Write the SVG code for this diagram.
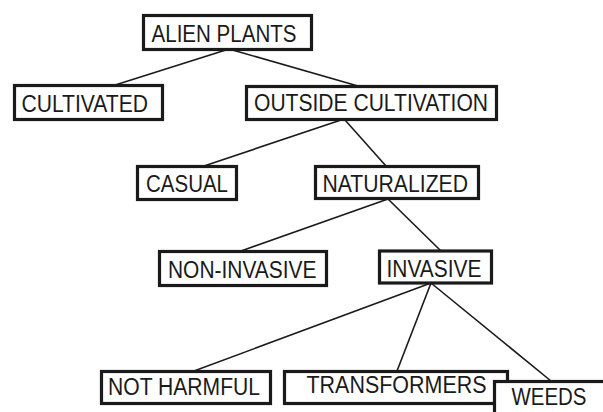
<svg xmlns="http://www.w3.org/2000/svg" width="603" height="412" viewBox="0 0 603 412">
<style>
.box{fill:#fff;stroke:#1a1a1a;stroke-width:3.2}
.lbl{font-family:"Liberation Sans",Arial,sans-serif;font-size:23px;fill:#1a1a1a}
.ln{stroke:#1a1a1a;stroke-width:1.6;fill:none}
</style>
<rect width="603" height="412" fill="#fff"/>
<g id="connectors">
<line class="ln" x1="229" y1="49" x2="112" y2="86"/>
<line class="ln" x1="229" y1="49" x2="358" y2="86"/>
<line class="ln" x1="341" y1="120" x2="204" y2="166"/>
<line class="ln" x1="345" y1="120" x2="386" y2="166"/>
<line class="ln" x1="388" y1="199" x2="241" y2="251"/>
<line class="ln" x1="388" y1="199" x2="441" y2="251"/>
<line class="ln" x1="431" y1="283" x2="194" y2="371"/>
<line class="ln" x1="431" y1="283" x2="397" y2="371"/>
<line class="ln" x1="431" y1="283" x2="551" y2="381"/>
</g>
<g id="alien-plants"><rect class="box" x="143.5" y="15.5" width="168" height="34"/><text class="lbl" x="151.5" y="42" textLength="145" lengthAdjust="spacingAndGlyphs">ALIEN PLANTS</text></g>
<g id="cultivated"><rect class="box" x="14.5" y="85.5" width="148" height="34"/><text class="lbl" x="21.5" y="112" textLength="126.5" lengthAdjust="spacingAndGlyphs">CULTIVATED</text></g>
<g id="outside-cultivation"><rect class="box" x="246.5" y="86.5" width="250" height="33"/><text class="lbl" x="254" y="110.5" textLength="234" lengthAdjust="spacingAndGlyphs">OUTSIDE CULTIVATION</text></g>
<g id="casual"><rect class="box" x="137.5" y="166.5" width="99" height="33"/><text class="lbl" x="146" y="191.5" textLength="82" lengthAdjust="spacingAndGlyphs">CASUAL</text></g>
<g id="naturalized"><rect class="box" x="315.5" y="166.5" width="163" height="32"/><text class="lbl" x="322.5" y="191.5" textLength="145.5" lengthAdjust="spacingAndGlyphs">NATURALIZED</text></g>
<g id="non-invasive"><rect class="box" x="159.5" y="251.5" width="167" height="34"/><text class="lbl" x="168" y="278" textLength="148.5" lengthAdjust="spacingAndGlyphs">NON-INVASIVE</text></g>
<g id="invasive"><rect class="box" x="379.5" y="251" width="112" height="32"/><text class="lbl" x="386.5" y="276.5" textLength="95" lengthAdjust="spacingAndGlyphs">INVASIVE</text></g>
<g id="not-harmful"><rect class="box" x="101.5" y="371.5" width="169" height="32"/><text class="lbl" x="108" y="395" textLength="152" lengthAdjust="spacingAndGlyphs">NOT HARMFUL</text></g>
<g id="transformers"><rect class="box" x="284.5" y="371.5" width="223" height="32"/><text class="lbl" x="306.5" y="393" textLength="180" lengthAdjust="spacingAndGlyphs">TRANSFORMERS</text></g>
<g id="weeds"><rect class="box" x="494.5" y="381.5" width="130" height="50"/><text class="lbl" x="511.5" y="405" textLength="75" lengthAdjust="spacingAndGlyphs">WEEDS</text></g>
</svg>
